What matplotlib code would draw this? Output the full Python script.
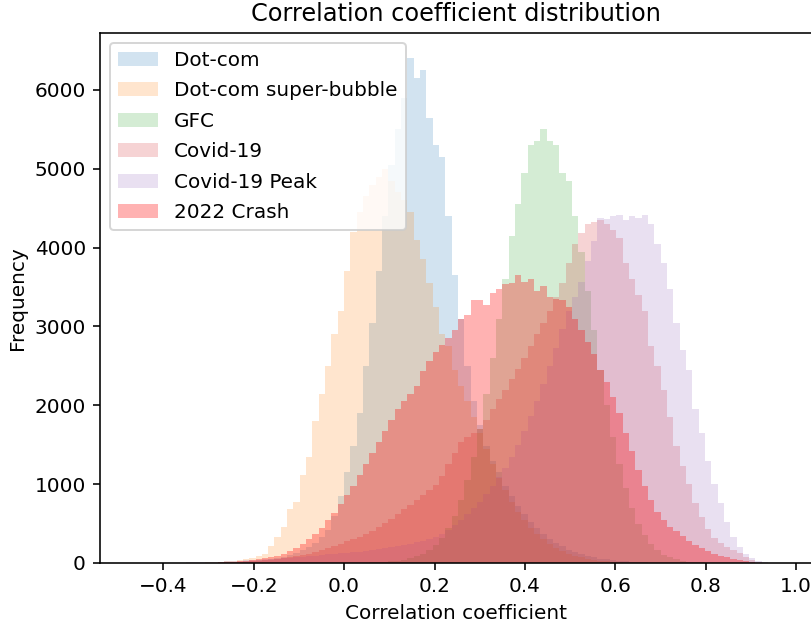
import numpy as np
import matplotlib.pyplot as plt

# all series share the same bin width; each list starts at its own first bin edge
bin_width = 0.014

dotcom_start = -0.336
dotcom = [2, 3, 4, 5, 7, 9, 12, 15, 20, 25, 32, 40, 50, 62, 80, 100, 125, 160, 200, 260,
          330, 420, 600, 850, 1150, 1480, 1900, 2500, 3050, 3700, 4400, 5050, 5500, 5900, 6400,
          6150, 6250, 5650, 5300, 5150, 4400, 3650, 3100, 2500, 2050, 1750, 1480, 1300, 1150, 980,
          850, 720, 620, 520, 440, 370, 310, 260, 210, 170, 140, 110, 90, 70, 55,
          45, 35, 25, 20, 15, 10, 8, 5]

bubble_start = -0.336
bubble = [3, 5, 7, 10, 14, 20, 28, 38, 50, 65,
          85, 120, 210, 330, 460, 680, 780, 1120, 1350, 1800,
          2150, 2500, 2900, 3200, 3700, 4200, 4450, 4650, 4800, 4900,
          5000, 4850, 4700, 4600, 4450, 4100, 3850, 3550, 3250, 2900,
          2750, 2450, 2250, 2050, 1850, 1650, 1450, 1250, 1080, 920,
          780, 650, 540, 450, 370, 300, 240, 190, 150, 120,
          90, 70, 52, 38, 28, 20, 14, 10, 6, 4]

gfc_start = 0.028
gfc = [3, 5, 7, 10, 14, 20, 30, 42, 60, 85, 120, 165, 230, 320, 440, 600, 800, 1050, 1350, 1700,
       2150, 2600, 3100, 3600, 4150, 4550, 4950, 5300, 5350, 5500, 5350, 5300, 4950, 4850, 4400,
       3950, 3450, 2950, 2450, 2000, 1600, 1250, 950, 700, 500, 350, 240, 160, 105, 70,
       45, 28, 18, 11, 7, 4]

covid_start = -0.266
covid = [8, 10, 12, 16, 22, 28, 35, 42, 50, 60, 72, 85, 100, 115, 135,
         160, 185, 215, 245, 275, 305, 335, 370, 410, 460, 510, 560, 620, 680, 740,
         800, 860, 920, 990, 1100, 1250, 1400, 1530, 1600, 1650, 1700, 1820, 1950, 2080, 2200,
         2330, 2460, 2600, 2750, 2900, 3050, 3200, 3380, 3550, 3800, 4050, 4180, 4300, 4330, 4350,
         4300, 4220, 4120, 3800, 3600, 3400, 3200, 2750, 2500, 2200, 1850, 1480, 1230, 1000, 760,
         580, 430, 320, 250, 200, 160, 125, 80, 40, 15, 5]

covid_peak_start = -0.434
covid_peak = [2, 2, 3, 4, 5, 6, 7, 9, 11, 13, 15, 18, 21, 24, 28, 32, 37, 42, 46, 50,
              55, 60, 66, 72, 78, 85, 92, 100, 108, 115, 122, 130, 138, 145, 155, 165, 178,
              190, 202, 215, 230, 245, 262, 280, 305, 330, 370, 420, 480, 550, 620, 700, 780,
              880, 980, 1090, 1210, 1350, 1500, 1680, 1870, 2060, 2270, 2500, 2730, 2970, 3200,
              3380, 3560, 3830, 4080, 4380, 4360, 4400, 4420, 4350, 4400, 4380, 4420, 4300, 4050,
              3800, 3480, 3050, 2700, 2450, 1950, 1650, 1300, 1000, 760, 520, 330, 200, 110,
              60, 25, 8, 3]

crash_start = -0.28
crash = [8, 11, 15, 22, 30, 40, 48, 58, 72, 95, 120, 150, 190, 240, 300, 370, 450, 540, 640, 750,
         860, 980, 1120, 1250, 1400, 1540, 1680, 1820, 1950, 2060, 2150, 2250, 2430, 2560, 2680,
         2760, 2860, 2950, 3100, 3150, 3330, 3340, 3270, 3420, 3480, 3540, 3550, 3650, 3560, 3600,
         3450, 3520, 3380, 3350, 3330, 3250, 3100, 2950, 2800, 2650, 2450, 2300, 2100, 1900, 1650,
         1420, 1180, 980, 800, 650, 540, 460, 400, 340, 280, 230, 190, 150, 120, 95,
         75, 55, 40, 25, 12, 5]

labels = ['Dot-com', 'Dot-com super-bubble', 'GFC', 'Covid-19', 'Covid-19 Peak', '2022 Crash']
starts = [dotcom_start, bubble_start, gfc_start, covid_start, covid_peak_start, crash_start]
counts = [dotcom, bubble, gfc, covid, covid_peak, crash]
colors = ['C0', 'C1', 'C2', 'C3', 'C4', 'red']
alphas = [0.2, 0.2, 0.2, 0.2, 0.2, 0.3]

dpi = 144
fig = plt.figure(figsize=(811 / dpi, 627 / dpi), dpi=dpi)
ax = fig.add_axes([100 / 811, 64 / 627, 712 / 811, 530 / 627])

for start, c, col, a, lab in zip(starts, counts, colors, alphas, labels):
    edges = start + bin_width * np.arange(len(c) + 1)
    centers = (edges[:-1] + edges[1:]) / 2
    ax.hist(centers, bins=edges, weights=c, color=col, alpha=a, label=lab)

ax.set_xlim(-0.54, 1.035)
ax.set_ylim(0, 6723)
ax.set_title('Correlation coefficient distribution')
ax.set_xlabel('Correlation coefficient')
ax.set_ylabel('Frequency')
ax.legend(loc='upper left', labelspacing=0.57)

fig.savefig('out.png', dpi=dpi)
